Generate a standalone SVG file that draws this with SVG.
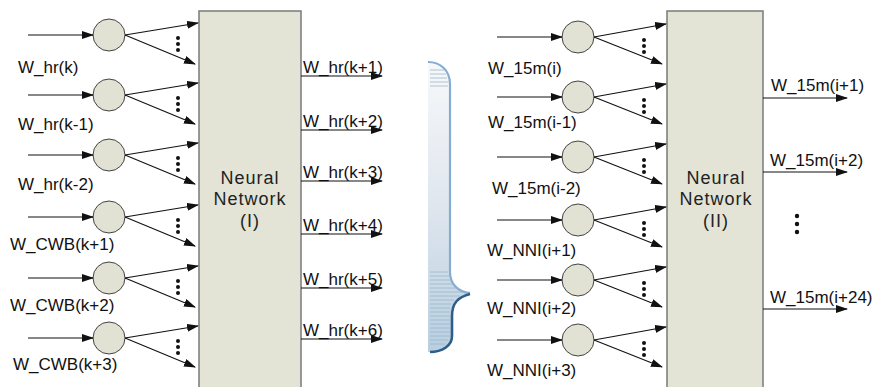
<svg xmlns="http://www.w3.org/2000/svg" width="875" height="387" viewBox="0 0 875 387">
<defs>
<marker id="ah" markerWidth="12" markerHeight="8" refX="11" refY="4" orient="auto" markerUnits="userSpaceOnUse">
<path d="M0,0 L12,4 L0,8 Z" fill="#111"/>
</marker>
<linearGradient id="bg" x1="0" y1="0" x2="0" y2="1">
<stop offset="0" stop-color="#f7f8fa"/>
<stop offset="0.5" stop-color="#dfe6ee"/>
<stop offset="1" stop-color="#b8cfe0"/>
</linearGradient>
</defs>
<style>
.t{font-family:"Liberation Sans",Arial,sans-serif;font-size:17px;fill:#111}
.nn{font-family:"Liberation Sans",Arial,sans-serif;font-size:18px;fill:#222;letter-spacing:1px;text-anchor:middle}
.node{fill:#e1e2d3;stroke:#444;stroke-width:1}
.box{fill:#e3e4d6;stroke:#7a7a7a;stroke-width:1.5}
.c{stroke:#111;stroke-width:1.1;fill:none;marker-end:url(#ah)}
.d{fill:#111}
.hl{stroke:#9ab6cc;stroke-width:0.8}
</style>
<rect width="875" height="387" fill="#fff"/>

<g id="brace">
<path d="M428,62 C440,62 450,70 450,84 L450,272 C450,284 458,292 470,293 C458,296 451,302 451,316 L451,336 C451,346 442,352 430,352 L428,352 Z" fill="url(#bg)"/>
<path d="M428,62 C440,62 450,70 450,84 L450,272 C450,284 458,292 470,293" fill="none" stroke="#86add0" stroke-width="2.2"/>
<path d="M470,294 C458,297 452,303 452,316 L452,336 C452,346 442,352 430,352" fill="none" stroke="#2e5d88" stroke-width="2.6"/>
<g class="hl">
<line x1="430" y1="70" x2="444" y2="70"/><line x1="430" y1="74" x2="446" y2="74"/><line x1="430" y1="78" x2="447" y2="78"/><line x1="430" y1="82" x2="448" y2="82"/><line x1="430" y1="86" x2="448" y2="86"/>
<line x1="430" y1="272" x2="448" y2="272"/><line x1="430" y1="276" x2="449" y2="276"/><line x1="430" y1="280" x2="450" y2="280"/><line x1="430" y1="284" x2="453" y2="284"/><line x1="430" y1="288" x2="458" y2="288"/><line x1="430" y1="292" x2="464" y2="292"/><line x1="430" y1="296" x2="460" y2="296"/><line x1="430" y1="300" x2="454" y2="300"/><line x1="430" y1="304" x2="451" y2="304"/><line x1="430" y1="308" x2="450" y2="308"/><line x1="430" y1="312" x2="450" y2="312"/><line x1="430" y1="316" x2="450" y2="316"/><line x1="430" y1="320" x2="450" y2="320"/><line x1="430" y1="324" x2="450" y2="324"/><line x1="430" y1="328" x2="450" y2="328"/><line x1="430" y1="332" x2="450" y2="332"/><line x1="430" y1="336" x2="450" y2="336"/><line x1="430" y1="340" x2="448" y2="340"/><line x1="430" y1="344" x2="445" y2="344"/>
</g>
</g>

<g id="nn1">
<rect class="box" x="199" y="11" width="102" height="380"/>
<text class="nn" x="250" y="184">Neural</text>
<text class="nn" x="250" y="205">Network</text>
<text class="nn" x="250" y="227">(I)</text>
</g>
<g id="nn2">
<rect class="box" x="667" y="11" width="96" height="380"/>
<text class="nn" x="716" y="184">Neural</text>
<text class="nn" x="716" y="205">Network</text>
<text class="nn" x="716" y="227">(II)</text>
</g>

<g id="left-nodes">
<g id="l1"><circle class="node" cx="109" cy="35" r="16"/><text class="t" x="18" y="73">W_hr(k)</text></g>
<g id="l2"><circle class="node" cx="109" cy="95" r="16"/><text class="t" x="18" y="130">W_hr(k-1)</text></g>
<g id="l3"><circle class="node" cx="109" cy="155" r="16"/><text class="t" x="18" y="190">W_hr(k-2)</text></g>
<g id="l4"><circle class="node" cx="109" cy="217" r="16"/><text class="t" x="10" y="250">W_CWB(k+1)</text></g>
<g id="l5"><circle class="node" cx="109" cy="278" r="16"/><text class="t" x="10" y="311">W_CWB(k+2)</text></g>
<g id="l6"><circle class="node" cx="109" cy="338" r="16"/><text class="t" x="13" y="370">W_CWB(k+3)</text></g>
</g>

<g id="right-nodes">
<g id="r1"><circle class="node" cx="578" cy="37" r="16"/><text class="t" x="488" y="74">W_15m(i)</text></g>
<g id="r2"><circle class="node" cx="578" cy="97" r="16"/><text class="t" x="488" y="128">W_15m(i-1)</text></g>
<g id="r3"><circle class="node" cx="578" cy="157" r="16"/><text class="t" x="492" y="194">W_15m(i-2)</text></g>
<g id="r4"><circle class="node" cx="578" cy="220" r="16"/><text class="t" x="487" y="256">W_NNI(i+1)</text></g>
<g id="r5"><circle class="node" cx="578" cy="280" r="16"/><text class="t" x="487" y="314">W_NNI(i+2)</text></g>
<g id="r6"><circle class="node" cx="578" cy="340" r="16"/><text class="t" x="487" y="376">W_NNI(i+3)</text></g>
</g>

<g id="outputs">
<text class="t" x="303" y="73">W_hr(k+1)</text>
<text class="t" x="303" y="127">W_hr(k+2)</text>
<text class="t" x="303" y="178">W_hr(k+3)</text>
<text class="t" x="303" y="231">W_hr(k+4)</text>
<text class="t" x="303" y="285">W_hr(k+5)</text>
<text class="t" x="303" y="336">W_hr(k+6)</text>
<text class="t" x="771" y="91">W_15m(i+1)</text>
<text class="t" x="770" y="166">W_15m(i+2)</text>
<text class="t" x="770" y="303">W_15m(i+24)</text>
<circle class="d" cx="797" cy="216" r="2.2"/><circle class="d" cx="797" cy="224" r="2.2"/><circle class="d" cx="797" cy="232" r="2.2"/>
</g>

<g id="connectors">
<!-- left inputs -->
<path class="c" d="M28,35 H93"/><path class="c" d="M28,95 H93"/><path class="c" d="M28,155 H93"/>
<path class="c" d="M28,217 H93"/><path class="c" d="M28,278 H93"/><path class="c" d="M28,338 H93"/>
<!-- left fan-outs -->
<path class="c" d="M125,35 L198,23"/><path class="c" d="M125,35 L195,64"/>
<path class="c" d="M125,95 L198,83"/><path class="c" d="M125,95 L195,124"/>
<path class="c" d="M125,155 L198,143"/><path class="c" d="M125,155 L195,184"/>
<path class="c" d="M125,217 L198,205"/><path class="c" d="M125,217 L195,246"/>
<path class="c" d="M125,278 L198,266"/><path class="c" d="M125,278 L195,307"/>
<path class="c" d="M125,338 L198,326"/><path class="c" d="M125,338 L195,367"/>
<!-- left outputs -->
<path class="c" d="M301,76 H382"/><path class="c" d="M301,130 H382"/><path class="c" d="M301,181 H382"/>
<path class="c" d="M301,234 H382"/><path class="c" d="M301,288 H382"/><path class="c" d="M301,339 H382"/>
<!-- right inputs -->
<path class="c" d="M497,37 H562"/><path class="c" d="M497,97 H562"/><path class="c" d="M497,157 H562"/>
<path class="c" d="M497,220 H562"/><path class="c" d="M497,280 H562"/><path class="c" d="M497,340 H562"/>
<!-- right fan-outs -->
<path class="c" d="M594,37 L666,24"/><path class="c" d="M594,37 L662,64"/>
<path class="c" d="M594,97 L666,84"/><path class="c" d="M594,97 L662,124"/>
<path class="c" d="M594,157 L666,144"/><path class="c" d="M594,157 L662,184"/>
<path class="c" d="M594,220 L666,207"/><path class="c" d="M594,220 L662,247"/>
<path class="c" d="M594,280 L666,267"/><path class="c" d="M594,280 L662,307"/>
<path class="c" d="M594,340 L666,327"/><path class="c" d="M594,340 L662,367"/>
<!-- right outputs -->
<path class="c" d="M763,98 H847"/><path class="c" d="M763,172 H847"/><path class="c" d="M763,309 H847"/>
<!-- dots -->
<g class="d">
<circle cx="178" cy="38" r="2"/><circle cx="178" cy="44" r="2"/><circle cx="178" cy="50" r="2"/>
<circle cx="178" cy="98" r="2"/><circle cx="178" cy="104" r="2"/><circle cx="178" cy="110" r="2"/>
<circle cx="178" cy="158" r="2"/><circle cx="178" cy="164" r="2"/><circle cx="178" cy="170" r="2"/>
<circle cx="178" cy="220" r="2"/><circle cx="178" cy="226" r="2"/><circle cx="178" cy="232" r="2"/>
<circle cx="178" cy="281" r="2"/><circle cx="178" cy="287" r="2"/><circle cx="178" cy="293" r="2"/>
<circle cx="178" cy="341" r="2"/><circle cx="178" cy="347" r="2"/><circle cx="178" cy="353" r="2"/>
<circle cx="644" cy="40" r="2"/><circle cx="644" cy="46" r="2"/><circle cx="644" cy="52" r="2"/>
<circle cx="644" cy="100" r="2"/><circle cx="644" cy="106" r="2"/><circle cx="644" cy="112" r="2"/>
<circle cx="644" cy="160" r="2"/><circle cx="644" cy="166" r="2"/><circle cx="644" cy="172" r="2"/>
<circle cx="644" cy="223" r="2"/><circle cx="644" cy="229" r="2"/><circle cx="644" cy="235" r="2"/>
<circle cx="644" cy="283" r="2"/><circle cx="644" cy="289" r="2"/><circle cx="644" cy="295" r="2"/>
<circle cx="644" cy="343" r="2"/><circle cx="644" cy="349" r="2"/><circle cx="644" cy="355" r="2"/>
</g>
</g>
</svg>
